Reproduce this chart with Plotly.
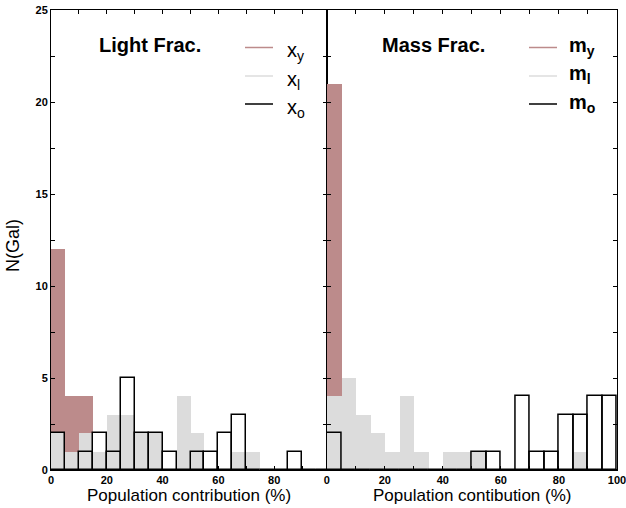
import plotly.graph_objects as go

# ---- data ----
bin_left = list(range(0, 100, 5))
light_young = [12, 4, 4, 0, 0, 0, 0, 0, 0, 0, 0, 0, 0, 0, 0, 0, 0, 0, 0, 0]
light_inter = [2, 1, 2, 1, 3, 3, 2, 2, 0, 4, 2, 0, 0, 1, 1, 0, 0, 0, 0, 0]
light_old = [2, 0, 1, 2, 1, 5, 2, 2, 1, 0, 1, 1, 2, 3, 0, 0, 0, 1, 0, 0]
mass_young = [21, 0, 0, 0, 0, 0, 0, 0, 0, 0, 0, 0, 0, 0, 0, 0, 0, 0, 0, 0]
mass_inter = [4, 5, 3, 2, 1, 4, 1, 0, 1, 1, 1, 0, 0, 0, 0, 0, 0, 1, 0, 0]
mass_old = [2, 0, 0, 0, 0, 0, 0, 0, 0, 0, 1, 1, 0, 4, 1, 1, 3, 3, 4, 4]
x_ticks_left = [0, 20, 40, 60, 80]
x_ticks_right = [0, 20, 40, 60, 80, 100]
y_ticks = [0, 5, 10, 15, 20, 25]

BROWN = "rgb(188,139,139)"
GRAY = "rgb(220,220,220)"
FONT = "Liberation Sans, Arial, sans-serif"

W, H = 626, 508
ML, MR, MT, MB = 51, 9, 10, 38
PW, PH = W - ML - MR, H - MT - MB
split = (326.7 - ML) / PW


def px(xpix):
    return (xpix - ML) / PW


def py(ypix):
    return (H - MB - ypix) / PH


fig = go.Figure()


def add_panel(xa, ya, young, inter, old):
    fig.add_trace(go.Bar(x=bin_left, y=young, width=5, offset=0, xaxis=xa, yaxis=ya,
                         marker=dict(color=BROWN, line=dict(width=0)), showlegend=False))
    fig.add_trace(go.Bar(x=bin_left, y=inter, width=5, offset=0, xaxis=xa, yaxis=ya,
                         marker=dict(color=GRAY, line=dict(width=0)), showlegend=False))
    fig.add_trace(go.Bar(x=bin_left, y=old, width=5, offset=0, xaxis=xa, yaxis=ya,
                         marker=dict(color="rgba(0,0,0,0)", line=dict(color="black", width=1.5)),
                         showlegend=False))


add_panel("x", "y", light_young, light_inter, light_old)
add_panel("x2", "y2", mass_young, mass_inter, mass_old)

tickfont = dict(family=FONT, size=11, color="black", weight="bold")
common_x = dict(showline=True, linecolor="black", linewidth=1, mirror="allticks",
                ticks="inside", ticklen=4, tickcolor="black", tickfont=tickfont,
                showgrid=False, zeroline=False, automargin=False, ticklabeloverflow="allow",
                minor=dict(dtick=10, ticks="inside", ticklen=4, tickcolor="black"))
common_y = dict(showline=True, linecolor="black", linewidth=1, mirror="allticks",
                ticks="inside", ticklen=4, tickcolor="black", tickfont=tickfont,
                showgrid=False, zeroline=True, zerolinecolor="black", zerolinewidth=2,
                range=[0, 25], tickvals=y_ticks, automargin=False,
                minor=dict(dtick=2.5, ticks="inside", ticklen=4, tickcolor="black"))

fig.update_layout(
    width=W, height=H,
    margin=dict(l=ML, r=MR, t=MT, b=MB, autoexpand=False),
    paper_bgcolor="white", plot_bgcolor="white",
    barmode="overlay", bargap=0,
    font=dict(family=FONT, color="black"),
    xaxis=dict(domain=[0, split], range=[0, 98.8], tickvals=x_ticks_left, anchor="y", **common_x),
    xaxis2=dict(domain=[split, 1], range=[0, 100], tickvals=x_ticks_right, anchor="y2", **common_x),
    yaxis=dict(domain=[0, 1], anchor="x", **common_y),
    yaxis2=dict(domain=[0, 1], anchor="x2", matches="y", showticklabels=False, **common_y),
)

ann = []
# axis titles
ann.append(dict(text="Population contribution (%)", x=px(188.9), y=py(496), xref="paper", yref="paper",
                showarrow=False, font=dict(size=17, family=FONT), xanchor="center", yanchor="middle"))
ann.append(dict(text="Population contibution (%)", x=px(472), y=py(496), xref="paper", yref="paper",
                showarrow=False, font=dict(size=17, family=FONT), xanchor="center", yanchor="middle"))
ann.append(dict(text="N(Gal)", x=px(13), y=py(246), xref="paper", yref="paper", textangle=-90,
                showarrow=False, font=dict(size=18, family=FONT), xanchor="center", yanchor="middle"))
# panel labels
ann.append(dict(text="<b>Light Frac.</b>", x=px(150), y=py(45), xref="paper", yref="paper",
                showarrow=False, font=dict(size=20, family=FONT), xanchor="center", yanchor="middle"))
ann.append(dict(text="<b>Mass Frac.</b>", x=px(433), y=py(45), xref="paper", yref="paper",
                showarrow=False, font=dict(size=20, family=FONT), xanchor="center", yanchor="middle"))

shapes = []
legend_rows = [(47.5, BROWN, "y"), (76, GRAY, "l"), (104, "black", "o")]
for ly, col, sub in legend_rows:
    shapes.append(dict(type="line", xref="paper", yref="paper", x0=px(245), x1=px(273),
                       y0=py(ly), y1=py(ly), line=dict(color=col, width=1.5)))
    shapes.append(dict(type="line", xref="paper", yref="paper", x0=px(529), x1=px(557),
                       y0=py(ly), y1=py(ly), line=dict(color=col, width=1.5)))
    ann.append(dict(text=f"x<sub>{sub}</sub>", x=px(285), y=py(ly + 4), xref="paper", yref="paper",
                    showarrow=False, font=dict(size=20, family=FONT), xanchor="left", yanchor="middle"))
    ann.append(dict(text=f"<b>m<sub>{sub}</sub></b>", x=px(567), y=py(ly - 1), xref="paper", yref="paper",
                    showarrow=False, font=dict(size=20, family=FONT), xanchor="left", yanchor="middle"))

fig.update_layout(annotations=ann, shapes=shapes)
fig.write_html("out.html", post_script="document.body.style.margin='0';",
               config={"displayModeBar": False})
